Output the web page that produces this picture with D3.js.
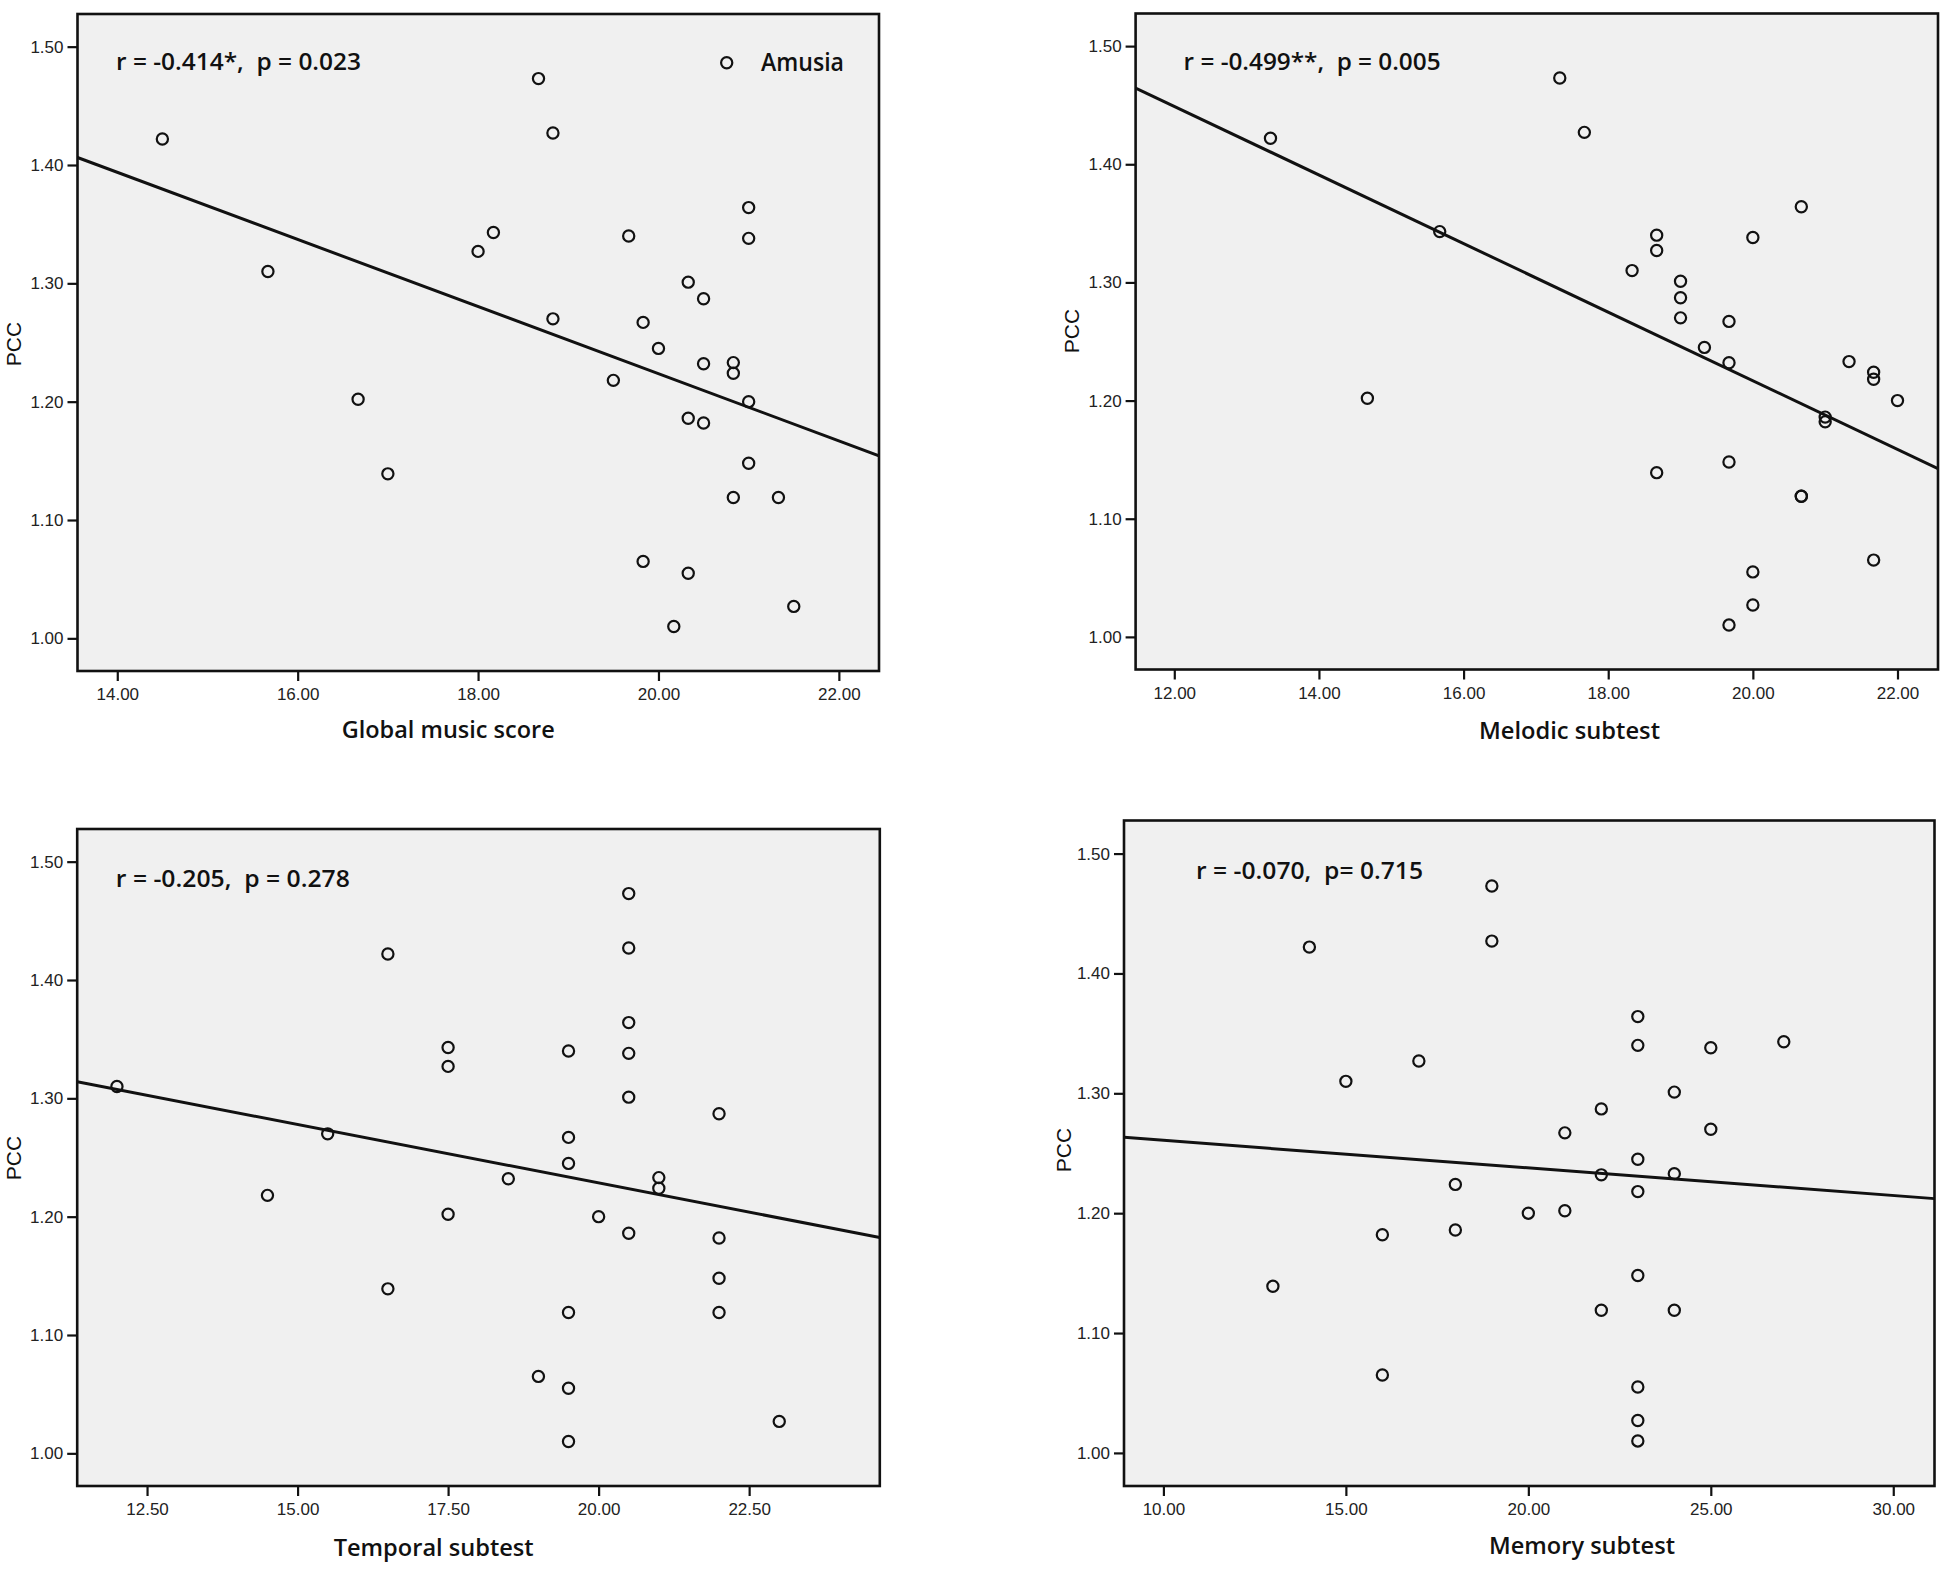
<!DOCTYPE html>
<html>
<head>
<meta charset="utf-8">
<script src="https://cdn.jsdelivr.net/npm/d3@7"></script>
<style>
  body { margin: 0; background: #fff; }
  svg { display: block; }
</style>
</head>
<body>
<svg id="chart" width="1950" height="1569"></svg>
<script>
// PCC value per subject (shared by all four panels)
const pcc = [1.422, 1.310, 1.202, 1.139, 1.327, 1.343, 1.473, 1.427, 1.270, 1.218,
             1.340, 1.267, 1.065, 1.245, 1.010, 1.301, 1.186, 1.055, 1.287, 1.232,
             1.182, 1.233, 1.224, 1.119, 1.364, 1.338, 1.200, 1.148, 1.119, 1.027];

// scores per subject, same order as pcc
const globalScore = [14.50, 15.67, 16.67, 17.00, 18.00, 18.17, 18.67, 18.83, 18.83, 19.50,
                     19.67, 19.83, 19.83, 20.00, 20.17, 20.33, 20.33, 20.33, 20.50, 20.50,
                     20.50, 20.83, 20.83, 20.83, 21.00, 21.00, 21.00, 21.00, 21.33, 21.50];
const melodic = [13.33, 18.33, 14.67, 18.67, 18.67, 15.67, 17.33, 17.67, 19.00, 21.67,
                 18.67, 19.67, 21.67, 19.33, 19.67, 19.00, 21.00, 20.00, 19.00, 19.67,
                 21.00, 21.33, 21.67, 20.67, 20.67, 20.00, 22.00, 19.67, 20.67, 20.00];
const temporal = [16.5, 12.0, 17.5, 16.5, 17.5, 17.5, 20.5, 20.5, 15.5, 14.5,
                  19.5, 19.5, 19.0, 19.5, 19.5, 20.5, 20.5, 19.5, 22.0, 18.5,
                  22.0, 21.0, 21.0, 19.5, 20.5, 20.5, 20.0, 22.0, 22.0, 23.0];
const memory = [14, 15, 21, 13, 17, 27, 19, 19, 25, 23,
                23, 21, 16, 23, 23, 24, 18, 23, 22, 22,
                16, 24, 18, 22, 23, 25, 20, 23, 24, 23];

const axisTitles = ['Global music score', 'Melodic subtest', 'Temporal subtest', 'Memory subtest'];
const statLabels = ['r = -0.414*,  p = 0.023', 'r = -0.499**,  p = 0.005',
                    'r = -0.205,  p = 0.278', 'r = -0.070,  p= 0.715'];
const xTickValues = [[14, 16, 18, 20, 22], [12, 14, 16, 18, 20, 22],
                     [12.5, 15, 17.5, 20, 22.5], [10, 15, 20, 25, 30]];
const yTickValues = [1.00, 1.10, 1.20, 1.30, 1.40, 1.50];
const legendLabel = 'Amusia';

const xSeries = [globalScore, melodic, temporal, memory];

// layout per panel
const panels = [
  { left: 77.5, right: 879, top: 14, bottom: 671, xDomain: [13.559, 22.445],
    stat: [116, 69.5, 245], title: [341.7, 738, 213], pcc: [21, 344] },
  { left: 1135.6, right: 1938, top: 13.5, bottom: 669.5, xDomain: [11.465, 22.56],
    stat: [1183.6, 70, 257], title: [1479, 739, 181], pcc: [1079, 331] },
  { left: 77.2, right: 879.8, top: 829, bottom: 1486, xDomain: [11.34, 24.67],
    stat: [115.8, 887, 234], title: [333.7, 1556, 200], pcc: [21, 1158] },
  { left: 1124, right: 1934.5, top: 820.5, bottom: 1486, xDomain: [8.92, 31.13],
    stat: [1196, 879, 227], title: [1489, 1554, 186], pcc: [1071, 1150] },
];
const yDomain = [0.9724, 1.5276];

const svg = d3.select('#chart');
const fmt = d3.format('.2f');

const linearFit = (xs, ys) => {
  const mx = d3.mean(xs), my = d3.mean(ys);
  let sxy = 0, sxx = 0;
  xs.forEach((x, i) => {
    sxy += (x - mx) * (ys[i] - my);
    sxx += (x - mx) * (x - mx);
  });
  const slope = sxy / sxx;
  return { slope, intercept: my - slope * mx };
};

panels.forEach((p, k) => {
  const xs = xSeries[k];
  const x = d3.scaleLinear().domain(p.xDomain).range([p.left, p.right]);
  const y = d3.scaleLinear().domain(yDomain).range([p.bottom, p.top]);
  const g = svg.append('g').attr('id', `panel-${k}`);

  g.append('defs').append('clipPath').attr('id', `clip-${k}`)
    .append('rect')
    .attr('x', p.left).attr('y', p.top)
    .attr('width', p.right - p.left).attr('height', p.bottom - p.top);

  g.append('rect')
    .attr('x', p.left).attr('y', p.top)
    .attr('width', p.right - p.left).attr('height', p.bottom - p.top)
    .attr('fill', '#f0f0f0');

  // axes
  const yAxis = g.append('g')
    .attr('transform', `translate(${p.left},0)`)
    .call(d3.axisLeft(y).tickValues(yTickValues).tickFormat(fmt).tickSize(10).tickPadding(4));
  const xAxis = g.append('g')
    .attr('transform', `translate(0,${p.bottom})`)
    .call(d3.axisBottom(x).tickValues(xTickValues[k]).tickFormat(fmt).tickSize(10).tickPadding(7));
  [xAxis, yAxis].forEach((ax) => {
    ax.select('.domain').remove();
    ax.selectAll('line').attr('stroke', '#111').attr('stroke-width', 2.2);
    ax.selectAll('text')
      .attr('fill', '#222')
      .style('font-family', '"Liberation Sans", Arial, sans-serif')
      .style('font-size', '17px');
  });

  g.append('rect')
    .attr('x', p.left).attr('y', p.top)
    .attr('width', p.right - p.left).attr('height', p.bottom - p.top)
    .attr('fill', 'none').attr('stroke', '#111').attr('stroke-width', 2.6);

  // fit line
  const fit = linearFit(xs, pcc);
  const [x0, x1] = p.xDomain;
  g.append('line')
    .attr('clip-path', `url(#clip-${k})`)
    .attr('x1', x(x0)).attr('y1', y(fit.intercept + fit.slope * x0))
    .attr('x2', x(x1)).attr('y2', y(fit.intercept + fit.slope * x1))
    .attr('stroke', '#111').attr('stroke-width', 3);

  // points
  g.append('g').selectAll('circle')
    .data(xs.map((d, i) => [d, pcc[i]]))
    .join('circle')
    .attr('cx', (d) => x(d[0]))
    .attr('cy', (d) => y(d[1]))
    .attr('r', 5.6)
    .attr('fill', 'none')
    .attr('stroke', '#111')
    .attr('stroke-width', 2.2);

  // texts
  g.append('text')
    .attr('x', p.stat[0]).attr('y', p.stat[1])
    .attr('textLength', p.stat[2]).attr('lengthAdjust', 'spacingAndGlyphs')
    .style('font-family', '"Open Sans", sans-serif')
    .style('font-weight', 600)
    .style('font-size', '24px')
    .attr('fill', '#111')
    .style('white-space', 'pre')
    .text(statLabels[k]);

  g.append('text')
    .attr('x', p.title[0]).attr('y', p.title[1])
    .attr('textLength', p.title[2]).attr('lengthAdjust', 'spacingAndGlyphs')
    .style('font-family', '"Open Sans", sans-serif')
    .style('font-weight', 600)
    .style('font-size', '24px')
    .attr('fill', '#111')
    .text(axisTitles[k]);

  g.append('text')
    .attr('transform', `translate(${p.pcc[0]},${p.pcc[1]})rotate(-90)`)
    .attr('text-anchor', 'middle')
    .style('font-family', '"Liberation Sans", Arial, sans-serif')
    .style('font-size', '21px')
    .attr('fill', '#111')
    .text('PCC');

  if (k === 0) {
    const lg = g.append('g');
    lg.append('circle')
      .attr('cx', 726.7).attr('cy', 62.7).attr('r', 5.6)
      .attr('fill', 'none').attr('stroke', '#111').attr('stroke-width', 2.2);
    lg.append('text')
      .attr('x', 761).attr('y', 70.7)
      .attr('textLength', 83).attr('lengthAdjust', 'spacingAndGlyphs')
      .style('font-family', '"Open Sans", sans-serif')
      .style('font-weight', 600)
      .style('font-size', '25px')
      .attr('fill', '#111')
      .text(legendLabel);
  }
});
</script>
</body>
</html>
